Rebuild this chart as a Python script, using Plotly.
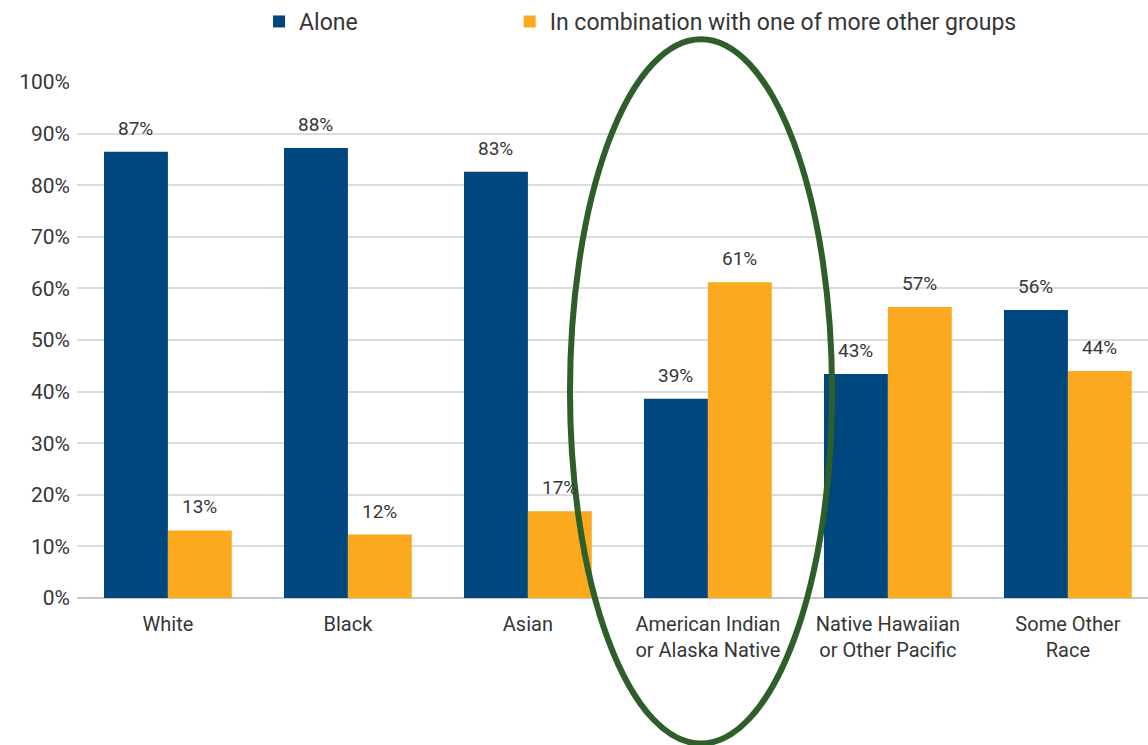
import plotly.graph_objects as go

categories = ["White", "Black", "Asian", "American Indian<br>or Alaska Native",
              "Native Hawaiian<br>or Other Pacific", "Some Other<br>Race"]
alone = [86.5, 87.2, 82.6, 38.6, 43.4, 55.8]
combo = [13.1, 12.3, 16.8, 61.2, 56.4, 44.0]
alone_labels = ["87%", "88%", "83%", "39%", "43%", "56%"]
combo_labels = ["13%", "12%", "17%", "61%", "57%", "44%"]
y_ticks = [0, 10, 20, 30, 40, 50, 60, 70, 80, 90, 100]

BLUE = "#00467F"
ORANGE = "#FBAA1F"
TXT = "#363636"

fig = go.Figure()
fig.add_trace(go.Bar(x=categories, y=alone, name="Alone", legend="legend",
                     marker=dict(color=BLUE, line=dict(width=0))))
fig.add_trace(go.Bar(x=categories, y=combo, name="In combination with one of more other groups",
                     legend="legend2", marker=dict(color=ORANGE, line=dict(width=0))))

for series, labels, shift in ((alone, alone_labels, -32), (combo, combo_labels, 32)):
    for c, v, t in zip(categories, series, labels):
        fig.add_annotation(x=c, y=v, text=t, showarrow=False, xshift=shift, yshift=10,
                           yanchor="bottom", font=dict(size=19, color=TXT))

# green highlight ellipse
fig.add_shape(type="circle", xref="paper", yref="paper",
              x0=0.4603, x1=0.705, y0=-0.282, y1=1.083,
              line=dict(color="#2E5E2A", width=6), fillcolor="rgba(0,0,0,0)", layer="above")

leg_common = dict(orientation="h", y=1.118, xanchor="left", yanchor="middle",
                  font=dict(size=23, color=TXT), bgcolor="rgba(0,0,0,0)")

fig.update_layout(
    width=1148, height=745,
    margin=dict(l=77, r=0, t=81, b=147),
    paper_bgcolor="white", plot_bgcolor="white",
    font=dict(family="Roboto, Arial, sans-serif", color=TXT, size=20),
    barmode="group", bargap=0.29, bargroupgap=0,
    showlegend=True,
    legend=dict(x=0.170, **leg_common),
    legend2=dict(x=0.404, **leg_common),
    xaxis=dict(range=[-0.505, 5.445], showgrid=False, showline=False, ticks="",
               ticklabelstandoff=12, tickfont=dict(size=20, color=TXT)),
    yaxis=dict(range=[0, 100], tickvals=y_ticks, ticktext=[f"{v}%" for v in y_ticks],
               showgrid=True, gridcolor="#dcdcdc", gridwidth=1.5, zeroline=True,
               zerolinecolor="#c8c8c8", zerolinewidth=2, ticks="", ticklabelstandoff=6,
               tickfont=dict(size=21, color=TXT)),
)

fig.write_html("out.html")
